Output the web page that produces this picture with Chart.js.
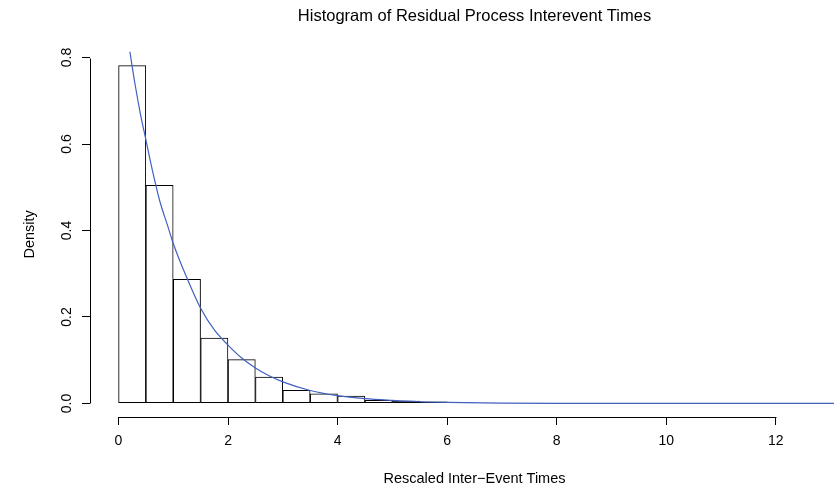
<!DOCTYPE html>
<html>
<head>
<meta charset="utf-8">
<script src="https://cdn.jsdelivr.net/npm/chart.js@4.4.1/dist/chart.umd.min.js"></script>
<style>
  html, body { margin: 0; padding: 0; background: #fff; overflow: hidden; }
  #wrap { width: 834px; height: 492px; overflow: hidden; }
</style>
</head>
<body>
<div id="wrap"><canvas id="histChart" width="859" height="492"></canvas></div>
<script>
// середины интервалов гистограммы (ширина 0.5)
const binMids = [0.25, 0.75, 1.25, 1.75, 2.25, 2.75, 3.25, 3.75, 4.25, 4.75, 5.25, 5.75, 6.25,
                 6.75, 7.25, 7.75, 8.25, 8.75, 9.25, 9.75, 10.25, 10.75, 11.25, 11.75, 12.25, 12.75];
// плотность по интервалам
const density = [0.782, 0.505, 0.288, 0.152, 0.102, 0.062, 0.031, 0.023, 0.018, 0.008, 0.006, 0.0045, 0.0025,
                 0.0012, 0.0008, 0.0005, 0.0004, 0.0003, 0.0002, 0.0002, 0.0001, 0.0001, 0.0001, 0.0001, 0.0001, 0.0002];

// теоретическая кривая
const curveX = [0.15, 0.2, 0.3, 0.4, 0.5, 0.6, 0.75, 0.9, 1.0, 1.25, 1.5, 1.75, 2.0, 2.25, 2.5, 2.75, 3.0,
                3.5, 4.0, 4.5, 5.0, 5.5, 6.0, 7.0, 8.0, 9.0, 10.0, 11.5, 13.5];
const curveY = [0.86, 0.82, 0.74, 0.67, 0.61, 0.55, 0.47, 0.41, 0.37, 0.29, 0.22, 0.17, 0.135, 0.105, 0.082, 0.064, 0.05,
                0.03, 0.018, 0.011, 0.007, 0.004, 0.0025, 0.001, 0.0003, 0.0001, 0.00005, 0.00001, 0];

// подписи осей
const xTicks = [0, 2, 4, 6, 8, 10, 12];
const yTicks = [0, 0.2, 0.4, 0.6, 0.8];
const yTickLabels = ['0.0', '0.2', '0.4', '0.6', '0.8'];

const FONT = 'Liberation Sans, Arial, Helvetica, sans-serif';

// Ось в стиле R: линия только от первой до последней метки
const rAxisLines = {
    id: 'rAxisLines',
    afterDraw(chart) {
        const ctx = chart.ctx;
        const xs = chart.scales.x;
        const ys = chart.scales.y;
        const area = chart.chartArea;
        ctx.save();
        ctx.strokeStyle = '#000';
        ctx.lineWidth = 1;
        ctx.beginPath();
        const yb = Math.round(area.bottom) + 0.5;
        ctx.moveTo(Math.round(xs.getPixelForValue(xTicks[0])) + 0.5, yb);
        ctx.lineTo(Math.round(xs.getPixelForValue(xTicks[xTicks.length - 1])) + 0.5, yb);
        const xl = Math.round(area.left) + 0.5;
        ctx.moveTo(xl, Math.round(ys.getPixelForValue(yTicks[0])) + 0.5);
        ctx.lineTo(xl, Math.round(ys.getPixelForValue(yTicks[yTicks.length - 1])) + 0.5);
        ctx.stroke();
        ctx.restore();
    }
};

const ctx = document.getElementById('histChart').getContext('2d');
new Chart(ctx, {
    type: 'bar',
    data: {
        datasets: [{
            type: 'line',
            data: curveX.map((x, i) => ({ x: x, y: curveY[i] })),
            borderColor: '#4160c0',
            borderWidth: 1.2,
            pointRadius: 0,
            cubicInterpolationMode: 'monotone',
            fill: false,
            order: 0
        }, {
            type: 'bar',
            data: binMids.map((x, i) => ({ x: x, y: density[i] })),
            backgroundColor: 'rgba(255,255,255,0)',
            borderColor: '#000',
            borderWidth: 1,
            borderSkipped: false,
            barPercentage: 1.018,
            categoryPercentage: 1,
            grouped: false,
            order: 1
        }]
    },
    options: {
        responsive: false,
        maintainAspectRatio: false,
        animation: false,
        devicePixelRatio: 1,
        layout: { padding: 0 },
        plugins: {
            legend: { display: false },
            tooltip: { enabled: false },
            title: {
                display: true,
                fullSize: false,
                text: 'Histogram of Residual Process Interevent Times',
                color: '#000',
                font: { family: FONT, size: 16.5, weight: 'normal' },
                padding: { top: 7, bottom: 25 }
            }
        },
        scales: {
            x: {
                type: 'linear',
                min: -0.52,
                max: 13.52,
                offset: false,
                afterBuildTicks: (scale) => { scale.ticks = xTicks.map(v => ({ value: v })); },
                afterFit: (scale) => { scale.height = 75; },
                border: { display: false },
                grid: { display: true, offset: false, drawOnChartArea: false, drawTicks: true, tickLength: 8, color: '#000', lineWidth: 1 },
                ticks: {
                    color: '#000',
                    font: { family: FONT, size: 14 },
                    padding: 8,
                    maxRotation: 0,
                    autoSkip: false,
                    callback: (v) => String(v)
                },
                title: {
                    display: true,
                    text: 'Rescaled Inter\u2212Event Times',
                    color: '#000',
                    font: { family: FONT, size: 14.5 },
                    padding: { top: 0, bottom: 4 }
                }
            },
            y: {
                type: 'linear',
                min: -0.0313,
                max: 0.8133,
                afterBuildTicks: (scale) => { scale.ticks = yTicks.map(v => ({ value: v })); },
                afterFit: (scale) => { scale.width = 90; },
                border: { display: false },
                grid: { display: true, offset: false, drawOnChartArea: false, drawTicks: true, tickLength: 8, color: '#000', lineWidth: 1 },
                ticks: {
                    color: '#000',
                    font: { family: FONT, size: 14 },
                    padding: 5,
                    minRotation: 90,
                    maxRotation: 90,
                    crossAlign: 'center',
                    autoSkip: false,
                    callback: (v, i) => yTickLabels[i]
                },
                title: {
                    display: true,
                    text: 'Density',
                    color: '#000',
                    font: { family: FONT, size: 14.5 },
                    padding: { top: 21, bottom: 0 }
                }
            }
        }
    },
    plugins: [rAxisLines]
});
</script>
</body>
</html>
